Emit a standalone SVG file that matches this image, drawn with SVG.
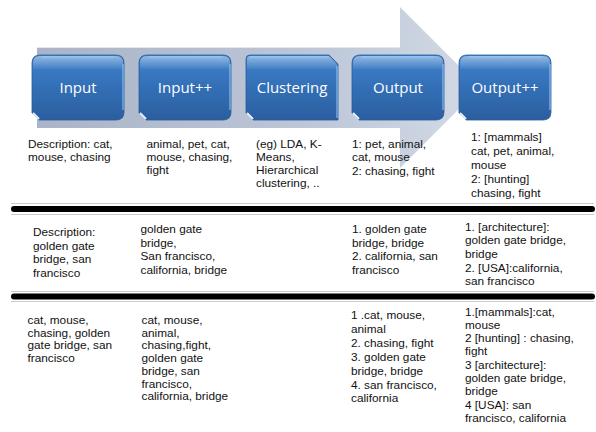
<svg xmlns="http://www.w3.org/2000/svg" width="596" height="432" viewBox="0 0 596 432">
<defs>
<linearGradient id="arrowG" x1="0" y1="0" x2="1" y2="0">
<stop offset="0" stop-color="#a9b4c8"/>
<stop offset="0.6" stop-color="#bcc6d7"/>
<stop offset="1" stop-color="#d3dae6"/>
</linearGradient>
<linearGradient id="boxG" x1="0" y1="0" x2="0" y2="1">
<stop offset="0" stop-color="#3f82cc"/>
<stop offset="0.5" stop-color="#336fb6"/>
<stop offset="1" stop-color="#2b5e9f"/>
</linearGradient>
<linearGradient id="hiG" x1="0" y1="0" x2="0" y2="1">
<stop offset="0" stop-color="#ffffff" stop-opacity="0.45"/>
<stop offset="1" stop-color="#ffffff" stop-opacity="0"/>
</linearGradient>
</defs>
<style>
.box{fill:url(#boxG);stroke:#2a5a96;stroke-width:0.8}
.hi{fill:url(#hiG)}
.edge{fill:none;stroke:#9fd0ff;stroke-width:1.2;opacity:0.8}
.fold{fill:none;stroke:#e6f2ff;stroke-width:2}
.lbl{font-family:"Open Sans","Liberation Sans",sans-serif;font-size:15px;fill:#ffffff;text-anchor:middle}
.t{font-family:"Liberation Sans",Arial,sans-serif;font-size:11.8px;fill:#111111}
.bar{stroke:#000000;stroke-width:6;stroke-linecap:round}
.rule{stroke:#cccccc;stroke-width:1}
</style>
<rect width="596" height="432" fill="#ffffff"/>
<g id="arrow">
<path d="M37,47 L400,47 L400,7 L480.5,87.5 L400,168 L400,128 L37,128 Z" fill="url(#arrowG)"/>
<line x1="37" y1="47.5" x2="400" y2="47.5" stroke="#e3e8f0" stroke-width="1"/>
</g>
<g id="input">
<path class="box" d="M40,55 H116 Q124,55 124,63 V112 Q124,120 116,120 H39 L32,113 V63 Q32,55 40,55 Z"/>
<path class="hi" d="M40,56 H116 Q123,56 123,63 V70 H33 V63 Q33,56 40,56 Z"/>
<path class="edge" d="M42,57 H114"/>
<path class="edge" d="M123,64 V110"/>
<path class="fold" d="M33,113 L39,119"/>
<text class="lbl" x="78" y="93">Input</text>
</g>
<g id="inputpp">
<path class="box" d="M147,55 H223 Q231,55 231,63 V112 Q231,120 223,120 H146 L139,113 V63 Q139,55 147,55 Z"/>
<path class="hi" d="M147,56 H223 Q230,56 230,63 V70 H140 V63 Q140,56 147,56 Z"/>
<path class="edge" d="M149,57 H221"/>
<path class="edge" d="M230,64 V110"/>
<path class="fold" d="M140,113 L146,119"/>
<text class="lbl" x="185" y="93">Input++</text>
</g>
<g id="clustering">
<path class="box" d="M250,55 H329 L338,64 V120 H253 L246,113 V59 Q246,55 250,55 Z"/>
<path class="hi" d="M250,56 H329 L337,64 V70 H247 V59 Q247,56 250,56 Z"/>
<path class="edge" d="M250,57 H328"/>
<path class="edge" d="M337,66 V118"/>
<path class="fold" d="M247,113 L253,119"/>
<text class="lbl" x="292" y="93">Clustering</text>
</g>
<g id="output">
<path class="box" d="M360,55 H436 Q444,55 444,63 V112 Q444,120 436,120 H359 L352,113 V63 Q352,55 360,55 Z"/>
<path class="hi" d="M360,56 H436 Q443,56 443,63 V70 H353 V63 Q353,56 360,56 Z"/>
<path class="edge" d="M362,57 H434"/>
<path class="edge" d="M443,64 V110"/>
<path class="fold" d="M353,113 L359,119"/>
<text class="lbl" x="398" y="93">Output</text>
</g>
<g id="outputpp">
<path class="box" d="M467,55 H543 Q551,55 551,63 V112 Q551,120 543,120 H466 L459,113 V63 Q459,55 467,55 Z"/>
<path class="hi" d="M467,56 H543 Q550,56 550,63 V70 H460 V63 Q460,56 467,56 Z"/>
<path class="edge" d="M469,57 H541"/>
<path class="edge" d="M550,64 V110"/>
<path class="fold" d="M460,113 L466,119"/>
<text class="lbl" x="505" y="93">Output++</text>
</g>
<g id="separators">
<line class="rule" x1="11" y1="203.5" x2="594" y2="203.5"/>
<line class="rule" x1="11" y1="214.5" x2="594" y2="214.5"/>
<line class="bar" x1="14" y1="209" x2="592" y2="209"/>
<line class="rule" x1="11" y1="291.5" x2="594" y2="291.5"/>
<line class="rule" x1="11" y1="301.5" x2="594" y2="301.5"/>
<line class="bar" x1="14" y1="296.5" x2="592" y2="296.5"/>
</g>
<g id="row1">
<text class="t" x="28" y="148">Description: cat,<tspan x="28" dy="13">mouse, chasing</tspan></text>
<text class="t" x="146.5" y="148">animal, pet, cat,<tspan x="146.5" dy="13">mouse, chasing,</tspan><tspan x="146.5" dy="13">fight</tspan></text>
<text class="t" x="256" y="148">(eg) LDA, K-<tspan x="256" dy="13">Means,</tspan><tspan x="256" dy="13.3">Hierarchical</tspan><tspan x="256" dy="13">clustering, ..</tspan></text>
<text class="t" x="352" y="148">1: pet, animal,<tspan x="352" dy="13">cat, mouse</tspan><tspan x="352" dy="14">2: chasing, fight</tspan></text>
<text class="t" x="471" y="140.5">1: [mammals]<tspan x="471" dy="14">cat, pet, animal,</tspan><tspan x="471" dy="14">mouse</tspan><tspan x="471" dy="14">2: [hunting]</tspan><tspan x="471" dy="14">chasing, fight</tspan></text>
</g>
<g id="row2">
<text class="t" x="33" y="236">Description:<tspan x="33" dy="13.5">golden gate</tspan><tspan x="33" dy="13.5">bridge, san</tspan><tspan x="33" dy="13.5">francisco</tspan></text>
<text class="t" x="140.5" y="233">golden gate<tspan x="140.5" dy="13.7">bridge,</tspan><tspan x="140.5" dy="13.7">San francisco,</tspan><tspan x="140.5" dy="13.7">california, bridge</tspan></text>
<text class="t" x="352" y="233">1. golden gate<tspan x="352" dy="13.7">bridge, bridge</tspan><tspan x="352" dy="13.7">2. california, san</tspan><tspan x="352" dy="13.7">francisco</tspan></text>
<text class="t" x="465" y="230.5">1. [architecture]:<tspan x="465" dy="13.7">golden gate bridge,</tspan><tspan x="465" dy="13.7">bridge</tspan><tspan x="465" dy="13.7">2. [USA]:california,</tspan><tspan x="465" dy="13.7">san francisco</tspan></text>
</g>
<g id="row3">
<text class="t" x="27.5" y="324">cat, mouse,<tspan x="27.5" dy="12.7">chasing, golden</tspan><tspan x="27.5" dy="12.7">gate bridge, san</tspan><tspan x="27.5" dy="12.7">francisco</tspan></text>
<text class="t" x="141.5" y="324">cat, mouse,<tspan x="141.5" dy="12.7">animal,</tspan><tspan x="141.5" dy="12.7">chasing,fight,</tspan><tspan x="141.5" dy="12.7">golden gate</tspan><tspan x="141.5" dy="12.7">bridge, san</tspan><tspan x="141.5" dy="12.9">francisco,</tspan><tspan x="141.5" dy="12.7">california, bridge</tspan></text>
<text class="t" x="351" y="319">1 .cat, mouse,<tspan x="351" dy="13.9">animal</tspan><tspan x="351" dy="13.9">2.  chasing, fight</tspan><tspan x="351" dy="13.9">3. golden gate</tspan><tspan x="351" dy="13.9">bridge, bridge</tspan><tspan x="351" dy="13.9">4. san francisco,</tspan><tspan x="351" dy="13.9">california</tspan></text>
<text class="t" x="465" y="315.5">1.[mammals]:cat,<tspan x="465" dy="13.3">mouse</tspan><tspan x="465" dy="13.3">2 [hunting] : chasing,</tspan><tspan x="465" dy="13.3">fight</tspan><tspan x="465" dy="13.3">3 [architecture]:</tspan><tspan x="465" dy="13.3">golden gate bridge,</tspan><tspan x="465" dy="13.3">bridge</tspan><tspan x="465" dy="13.3">4 [USA]: san</tspan><tspan x="465" dy="13.3">francisco, california</tspan></text>
</g>
</svg>
